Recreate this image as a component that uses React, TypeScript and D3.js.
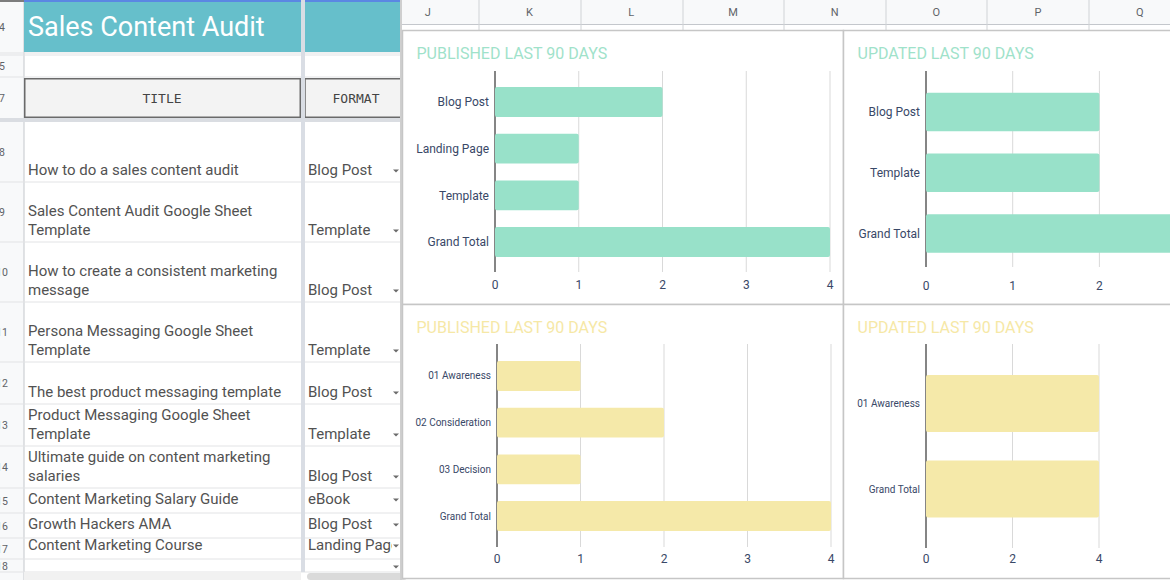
import React from "react";
import * as d3 from "d3";

// ---------- chart data ----------
const publishedFormatCategories = ["Blog Post", "Landing Page", "Template", "Grand Total"];
const publishedFormatValues = [2, 1, 1, 4];
const updatedFormatCategories = ["Blog Post", "Template", "Grand Total"];
const updatedFormatValues = [2, 2, 4];
const publishedStageCategories = ["01 Awareness", "02 Consideration", "03 Decision", "Grand Total"];
const publishedStageValues = [1, 2, 1, 4];
const updatedStageCategories = ["01 Awareness", "Grand Total"];
const updatedStageValues = [4, 4];
const ticksByOne = [0, 1, 2, 3, 4];
const ticksByTwo = [0, 2, 4];
const publishedTitle = "PUBLISHED LAST 90 DAYS";
const updatedTitle = "UPDATED LAST 90 DAYS";

// ---------- sheet data ----------
const sheetTitle = "Sales Content Audit";
const headerLabels = ["TITLE", "FORMAT"];
const topRowNumbers = [4, 5, 7];
const rowNumbers = [8, 9, 10, 11, 12, 13, 14, 15, 16, 17, 18];
const contentTitles: string[][] = [
  ["How to do a sales content audit"],
  ["Sales Content Audit Google Sheet", "Template"],
  ["How to create a consistent marketing", "message"],
  ["Persona Messaging Google Sheet", "Template"],
  ["The best product messaging template"],
  ["Product Messaging Google Sheet", "Template"],
  ["Ultimate guide on content marketing", "salaries"],
  ["Content Marketing Salary Guide"],
  ["Growth Hackers AMA"],
  ["Content Marketing Course"],
  [],
];
const contentFormats = ["Blog Post", "Template", "Blog Post", "Template", "Blog Post", "Template", "Blog Post", "eBook", "Blog Post", "Landing Page", ""];
const columnLetters = ["J", "K", "L", "M", "N", "O", "P", "Q"];

// ---------- layout ----------
const W = 1170;
const H = 580;
const rowTop0 = 122;
const rowBottoms = [182, 242, 302, 362, 404, 446, 488, 513, 538, 559, 572];
const colLines = [479, 581, 683, 784, 886, 987, 1089];
const colStart = 377;
const colW = 101.7;

const MINT = "#98e1c9";
const MINT_T = "#9fe2ca";
const YEL = "#f5e9a9";
const YEL_T = "#f6e8a6";
const LABEL = "#394867";
const FONT = "Roboto, 'Noto Sans', sans-serif";

type PanelProps = {
  title: string;
  titleColor: string;
  barColor: string;
  categories: string[];
  values: number[];
  ticks: number[];
  box: [number, number, number, number];
  xRange: [number, number];
  band: [number, number];
  pad: number;
  grid: [number, number];
  labelSize: number;
  tickY: number;
};

function Panel(p: PanelProps) {
  const [bx0, by0, bx1, by1] = p.box;
  const x = d3.scaleLinear().domain([0, 4]).range(p.xRange);
  const y = d3
    .scaleBand<string>()
    .domain(p.categories)
    .range(p.band)
    .paddingInner(p.pad)
    .paddingOuter(p.pad / 2);
  const x0 = x(0);
  return (
    <g>
      <rect x={bx0} y={by0} width={bx1 - bx0} height={by1 - by0} fill="#fff" stroke="#c6c6c6" strokeWidth={1.5} />
      <text x={bx0 + 14} y={by0 + 28} fontFamily={FONT} fontSize={16} fill={p.titleColor}>
        {p.title}
      </text>
      {p.ticks
        .filter((t) => t !== 0)
        .map((t) => (
          <line key={"g" + t} x1={x(t)} x2={x(t)} y1={p.grid[0]} y2={p.grid[1]} stroke="#d9d9d9" strokeWidth={1} />
        ))}
      <line x1={x0} x2={x0} y1={p.grid[0]} y2={p.grid[1]} stroke="#5c5c5c" strokeWidth={1.5} />
      {p.categories.map((c, i) => (
        <rect
          key={"b" + c}
          x={x0}
          y={y(c)}
          width={x(p.values[i]) - x0}
          height={y.bandwidth()}
          rx={2}
          fill={p.barColor}
        />
      ))}
      {p.categories.map((c) => (
        <text
          key={"l" + c}
          x={x0 - 6}
          y={(y(c) as number) + y.bandwidth() / 2 + p.labelSize * 0.35}
          textAnchor="end"
          fontFamily={FONT}
          fontSize={p.labelSize}
          fill={LABEL}
        >
          {c}
        </text>
      ))}
      {p.ticks.map((t) => (
        <text key={"t" + t} x={x(t)} y={p.tickY} textAnchor="middle" fontFamily={FONT} fontSize={12} fill={LABEL}>
          {t}
        </text>
      ))}
    </g>
  );
}

function Arrow({ cx, cy }: { cx: number; cy: number }) {
  return <path d={`M${cx - 3},${cy - 1.5}L${cx + 3},${cy - 1.5}L${cx},${cy + 1.5}Z`} fill="#6b6b6b" />;
}

export default function App() {
  const rowTops = rowBottoms.map((b, i) => (i === 0 ? rowTop0 : rowBottoms[i - 1]));
  const sheetFont = "Roboto, 'Noto Sans', sans-serif";
  const textColor = "#525252";
  const last = rowNumbers.length - 1;
  return (
    <svg width={W} height={H} style={{ position: "absolute", left: 0, top: 0, background: "#fff" }}>
      <defs>
        <clipPath id="colB">
          <rect x={305} y={0} width={87} height={H} />
        </clipPath>
        <clipPath id="rowHead">
          <rect x={0} y={0} width={24} height={H} />
        </clipPath>
      </defs>
      <rect x={0} y={0} width={W} height={H} fill="#fff" />

      {/* ---------- left sheet ---------- */}
      <rect x={0} y={0} width={24} height={H} fill="#f8f9fa" />
      <line x1={24} x2={24} y1={0} y2={H} stroke="#c4c7cc" strokeWidth={1} />
      <rect x={24} y={2} width={376} height={50} fill="#66bfcb" />
      <rect x={24} y={0} width={376} height={2} fill="#5b87e3" />
      <rect x={0} y={0} width={24} height={2} fill="#7d7d7d" />
      <text x={28} y={36} fontFamily={sheetFont} fontSize={27} fill="#ffffff">
        {sheetTitle}
      </text>
      {[53, 55, 77].map((yy) => (
        <line key={"tl" + yy} x1={0} x2={400} y1={yy} y2={yy} stroke="#e2e3e5" strokeWidth={1} />
      ))}
      <rect x={24.75} y={78.75} width={275.5} height={38.5} fill="#f3f3f3" stroke="#6a6a6a" strokeWidth={1.5} />
      <rect x={305} y={78.75} width={97} height={38.5} fill="#f3f3f3" stroke="#6a6a6a" strokeWidth={1.5} />
      <text x={162} y={103} textAnchor="middle" fontFamily="'DejaVu Sans Mono', monospace" fontSize={13} fill="#444">
        {headerLabels[0]}
      </text>
      <text x={356} y={103} textAnchor="middle" fontFamily="'DejaVu Sans Mono', monospace" fontSize={13} fill="#444">
        {headerLabels[1]}
      </text>
      <g clipPath="url(#rowHead)">
        {topRowNumbers.map((n, i) => (
          <text
            key={"trn" + n}
            x={2}
            y={[31, 70, 102][i]}
            textAnchor="middle"
            fontFamily={sheetFont}
            fontSize={10.5}
            fill="#5f6368"
          >
            {n}
          </text>
        ))}
      </g>
      <rect x={0} y={118} width={400} height={4} fill="#dadde2" />

      {rowNumbers.map((n, i) => {
        const top = rowTops[i];
        const bottom = rowBottoms[i];
        const h = bottom - top;
        const base = bottom - (h > 30 ? 7 : 9);
        const lines = contentTitles[i];
        return (
          <g key={"r" + n}>
            <line x1={0} x2={400} y1={bottom} y2={bottom} stroke="#e2e3e5" strokeWidth={1} />
            <g clipPath="url(#rowHead)">
              <text
                x={2}
                y={(top + bottom) / 2 + 4}
                textAnchor="middle"
                fontFamily={sheetFont}
                fontSize={10.5}
                fill="#5f6368"
              >
                {n}
              </text>
            </g>
            {lines.map((ln, j) => (
              <text
                key={"t" + j}
                x={28}
                y={base - (lines.length - 1 - j) * 18.7}
                fontFamily={sheetFont}
                fontSize={15}
                fill={textColor}
              >
                {ln}
              </text>
            ))}
            <text x={308} y={base} fontFamily={sheetFont} fontSize={15} fill={textColor} clipPath="url(#colB)">
              {contentFormats[i]}
            </text>
            <Arrow cx={396} cy={i === last ? 567 : base - 4} />
          </g>
        );
      })}
      <rect x={301} y={0} width={4} height={572} fill="#d9dde4" />
      <rect x={24} y={572} width={277} height={8} fill="#f1f1f1" />
      <rect x={307} y={573} width={100} height={7} rx={3.5} fill="#dadada" />

      {/* ---------- right: column headers ---------- */}
      <rect x={400} y={0} width={W - 400} height={24} fill="#f8f9fa" />
      <line x1={400} x2={W} y1={24.5} y2={24.5} stroke="#c4c7cc" strokeWidth={1} />
      {colLines.map((cx) => (
        <line key={"cl" + cx} x1={cx} x2={cx} y1={0} y2={31} stroke="#d0d3d6" strokeWidth={1} />
      ))}
      {columnLetters.map((c, i) => (
        <text
          key={"c" + c}
          x={colStart + colW * (i + 0.5)}
          y={16}
          textAnchor="middle"
          fontFamily={sheetFont}
          fontSize={11}
          fill="#5f6368"
        >
          {c}
        </text>
      ))}
      <line x1={401} x2={401} y1={0} y2={H} stroke="#cfcfcf" strokeWidth={2} />

      {/* ---------- charts ---------- */}
      <Panel
        title={publishedTitle}
        titleColor={MINT_T}
        barColor={MINT}
        categories={publishedFormatCategories}
        values={publishedFormatValues}
        ticks={ticksByOne}
        box={[402.5, 30.5, 843.5, 304.5]}
        xRange={[495, 830]}
        band={[78.6, 265.4]}
        pad={0.36}
        grid={[71, 272]}
        labelSize={12}
        tickY={289}
      />
      <Panel
        title={updatedTitle}
        titleColor={MINT_T}
        barColor={MINT}
        categories={updatedFormatCategories}
        values={updatedFormatValues}
        ticks={ticksByOne}
        box={[843.5, 30.5, 1180, 304.5]}
        xRange={[926, 1272.8]}
        band={[81.6, 263.9]}
        pad={0.366}
        grid={[71, 267]}
        labelSize={12}
        tickY={290}
      />
      <Panel
        title={publishedTitle}
        titleColor={YEL_T}
        barColor={YEL}
        categories={publishedStageCategories}
        values={publishedStageValues}
        ticks={ticksByOne}
        box={[402.5, 304.5, 843.5, 578.5]}
        xRange={[497, 831]}
        band={[352.6, 539.4]}
        pad={0.36}
        grid={[344, 547]}
        labelSize={10}
        tickY={563}
      />
      <Panel
        title={updatedTitle}
        titleColor={YEL_T}
        barColor={YEL}
        categories={updatedStageCategories}
        values={updatedStageValues}
        ticks={ticksByTwo}
        box={[843.5, 304.5, 1180, 578.5]}
        xRange={[926, 1099]}
        band={[360.75, 531.75]}
        pad={0.333}
        grid={[344, 548]}
        labelSize={10}
        tickY={563}
      />
    </svg>
  );
}
